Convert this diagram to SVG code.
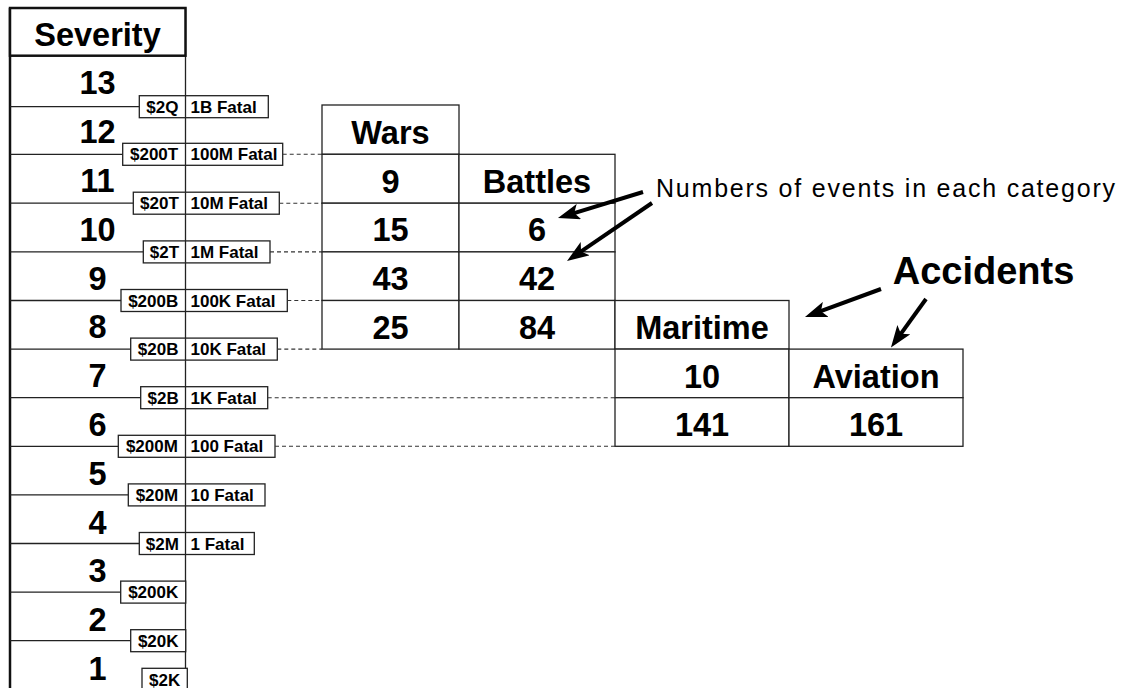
<svg xmlns="http://www.w3.org/2000/svg" width="1127" height="688" viewBox="0 0 1127 688">
<style>
text{font-family:"Liberation Sans",Arial,sans-serif;fill:#000}
.big{font-size:32.5px;font-weight:bold;text-anchor:middle}
.lab{font-size:17px;font-weight:bold}
.c{text-anchor:middle}
.cell{fill:#fff;stroke:#222;stroke-width:1.3}
.sep{stroke:#222;stroke-width:1.3}
.dash{stroke:#333;stroke-width:1.1;stroke-dasharray:4 3;fill:none}
.arr{stroke:#000;stroke-width:4;fill:none;marker-end:url(#head)}
</style>
<defs>
<marker id="head" markerUnits="userSpaceOnUse" viewBox="0 0 22 16" markerWidth="22" markerHeight="16" refX="11" refY="8" orient="auto">
<path d="M0,0 L22,8 L0,16 L5,8 z" fill="#000"/>
</marker>
</defs>
<rect width="1127" height="688" fill="#fff"/>

<g id="severity">
<line x1="10" y1="8" x2="10" y2="690" stroke="#111" stroke-width="2.5"/>
<line x1="185.5" y1="8" x2="185.5" y2="668" stroke="#222" stroke-width="1.3"/>
<rect x="10" y="8" width="175.5" height="47.7" fill="#fff" stroke="#111" stroke-width="2.5"/>
<text class="big" x="97.5" y="46">Severity</text>
<g id="rownums">
<text class="big" x="97.5" y="94.3">13</text>
<text class="big" x="97.5" y="143.1">12</text>
<text class="big" x="97.5" y="191.9">11</text>
<text class="big" x="97.5" y="240.7">10</text>
<text class="big" x="97.5" y="289.5">9</text>
<text class="big" x="97.5" y="338.3">8</text>
<text class="big" x="97.5" y="387.1">7</text>
<text class="big" x="97.5" y="435.9">6</text>
<text class="big" x="97.5" y="484.7">5</text>
<text class="big" x="97.5" y="533.5">4</text>
<text class="big" x="97.5" y="582.3">3</text>
<text class="big" x="97.5" y="631.1">2</text>
<text class="big" x="97.5" y="679.9">1</text>
</g>
</g>

<g id="scale-labels">
<line class="sep" x1="10" y1="106.7" x2="139.3" y2="106.7"/>
<rect class="cell" x="139.3" y="95.7" width="129" height="22"/>
<line class="sep" x1="185.5" y1="95.7" x2="185.5" y2="117.7"/>
<text class="lab c" x="162.4" y="112.8">$2Q</text><text class="lab" x="190.5" y="112.8">1B Fatal</text>

<line class="sep" x1="10" y1="154.3" x2="122.7" y2="154.3"/>
<rect class="cell" x="122.7" y="143.3" width="160" height="22"/>
<line class="sep" x1="185.5" y1="143.3" x2="185.5" y2="165.3"/>
<text class="lab c" x="154.1" y="160.4">$200T</text><text class="lab" x="190.5" y="160.4">100M Fatal</text>

<line class="sep" x1="10" y1="203.2" x2="133.3" y2="203.2"/>
<rect class="cell" x="133.3" y="192.2" width="146" height="22"/>
<line class="sep" x1="185.5" y1="192.2" x2="185.5" y2="214.2"/>
<text class="lab c" x="159.4" y="209.3">$20T</text><text class="lab" x="190.5" y="209.3">10M Fatal</text>

<line class="sep" x1="10" y1="251.9" x2="143.3" y2="251.9"/>
<rect class="cell" x="143.3" y="240.9" width="126.7" height="22"/>
<line class="sep" x1="185.5" y1="240.9" x2="185.5" y2="262.9"/>
<text class="lab c" x="164.4" y="258">$2T</text><text class="lab" x="190.5" y="258">1M Fatal</text>

<line class="sep" x1="10" y1="300.5" x2="121" y2="300.5"/>
<rect class="cell" x="121" y="289.5" width="166.3" height="22"/>
<line class="sep" x1="185.5" y1="289.5" x2="185.5" y2="311.5"/>
<text class="lab c" x="153.2" y="306.6">$200B</text><text class="lab" x="190.5" y="306.6">100K Fatal</text>

<line class="sep" x1="10" y1="349.1" x2="130.7" y2="349.1"/>
<rect class="cell" x="130.7" y="338.1" width="146.6" height="22"/>
<line class="sep" x1="185.5" y1="338.1" x2="185.5" y2="360.1"/>
<text class="lab c" x="158.1" y="355.2">$20B</text><text class="lab" x="190.5" y="355.2">10K Fatal</text>

<line class="sep" x1="10" y1="397.7" x2="140.7" y2="397.7"/>
<rect class="cell" x="140.7" y="386.7" width="127" height="22"/>
<line class="sep" x1="185.5" y1="386.7" x2="185.5" y2="408.7"/>
<text class="lab c" x="163.1" y="403.8">$2B</text><text class="lab" x="190.5" y="403.8">1K Fatal</text>

<line class="sep" x1="10" y1="446.3" x2="118.3" y2="446.3"/>
<rect class="cell" x="118.3" y="435.3" width="156.7" height="22"/>
<line class="sep" x1="185.5" y1="435.3" x2="185.5" y2="457.3"/>
<text class="lab c" x="151.9" y="452.4">$200M</text><text class="lab" x="190.5" y="452.4">100 Fatal</text>

<line class="sep" x1="10" y1="494.9" x2="128.3" y2="494.9"/>
<rect class="cell" x="128.3" y="483.9" width="136.7" height="22"/>
<line class="sep" x1="185.5" y1="483.9" x2="185.5" y2="505.9"/>
<text class="lab c" x="156.9" y="501">$20M</text><text class="lab" x="190.5" y="501">10 Fatal</text>

<line class="sep" x1="10" y1="543.5" x2="139.3" y2="543.5"/>
<rect class="cell" x="139.3" y="532.5" width="115" height="22"/>
<line class="sep" x1="185.5" y1="532.5" x2="185.5" y2="554.5"/>
<text class="lab c" x="162.4" y="549.6">$2M</text><text class="lab" x="190.5" y="549.6">1 Fatal</text>

<line class="sep" x1="10" y1="592.1" x2="120.7" y2="592.1"/>
<rect class="cell" x="120.7" y="581.1" width="65" height="22"/>
<text class="lab c" x="153.2" y="598.2">$200K</text>

<line class="sep" x1="10" y1="640.7" x2="130.7" y2="640.7"/>
<rect class="cell" x="130.7" y="629.7" width="55" height="22"/>
<text class="lab c" x="158.2" y="646.8">$20K</text>

<rect class="cell" x="142" y="668.3" width="45.3" height="25"/>
<text class="lab c" x="164.6" y="685.5">$2K</text>
</g>

<g id="wars">
<rect class="cell" x="322" y="105" width="137" height="49.3"/>
<rect class="cell" x="322" y="154.3" width="137" height="48.9"/>
<rect class="cell" x="322" y="203.2" width="137" height="48.7"/>
<rect class="cell" x="322" y="251.9" width="137" height="48.6"/>
<rect class="cell" x="322" y="300.5" width="137" height="48.6"/>
<text class="big" x="390.5" y="144">Wars</text>
<text class="big" x="390.5" y="192.5">9</text>
<text class="big" x="390.5" y="241.2">15</text>
<text class="big" x="390.5" y="289.9">43</text>
<text class="big" x="390.5" y="338.5">25</text>
</g>

<g id="battles">
<rect class="cell" x="459" y="154.3" width="156" height="48.9"/>
<rect class="cell" x="459" y="203.2" width="156" height="48.7"/>
<rect class="cell" x="459" y="251.9" width="156" height="48.6"/>
<rect class="cell" x="459" y="300.5" width="156" height="48.6"/>
<text class="big" x="537" y="192.5">Battles</text>
<text class="big" x="537" y="241.2">6</text>
<text class="big" x="537" y="289.9">42</text>
<text class="big" x="537" y="338.5">84</text>
</g>

<g id="maritime">
<rect class="cell" x="615" y="300.5" width="174" height="48.6"/>
<rect class="cell" x="615" y="349.1" width="174" height="48.6"/>
<rect class="cell" x="615" y="397.7" width="174" height="48.6"/>
<text class="big" x="702" y="339">Maritime</text>
<text class="big" x="702" y="387.8">10</text>
<text class="big" x="702" y="436.2">141</text>
</g>

<g id="aviation">
<rect class="cell" x="789" y="349.1" width="174" height="48.6"/>
<rect class="cell" x="789" y="397.7" width="174" height="48.6"/>
<text class="big" x="876" y="387.8">Aviation</text>
<text class="big" x="876" y="436.2">161</text>
</g>

<g id="annotations">
<text x="656" y="196.7" font-size="25" textLength="459" lengthAdjust="spacing">Numbers of events in each category</text>
<text x="892.7" y="284.3" font-size="38" font-weight="bold">Accidents</text>
</g>

<g id="connectors">
<line class="dash" x1="282.7" y1="154.3" x2="322" y2="154.3"/>
<line class="dash" x1="279.3" y1="203.2" x2="322" y2="203.2"/>
<line class="dash" x1="270" y1="251.9" x2="322" y2="251.9"/>
<line class="dash" x1="287.3" y1="300.5" x2="322" y2="300.5"/>
<line class="dash" x1="277.3" y1="349.1" x2="322" y2="349.1"/>
<line class="dash" x1="267.7" y1="397.7" x2="615" y2="397.7"/>
<line class="dash" x1="275" y1="446.3" x2="615" y2="446.3"/>
<line class="arr" x1="643" y1="192" x2="568.5" y2="214.8"/>
<line class="arr" x1="652" y1="203" x2="576.1" y2="254.8"/>
<line class="arr" x1="881" y1="289" x2="815.3" y2="313.2"/>
<line class="arr" x1="926" y1="299" x2="897.4" y2="338.6"/>
</g>
</svg>
